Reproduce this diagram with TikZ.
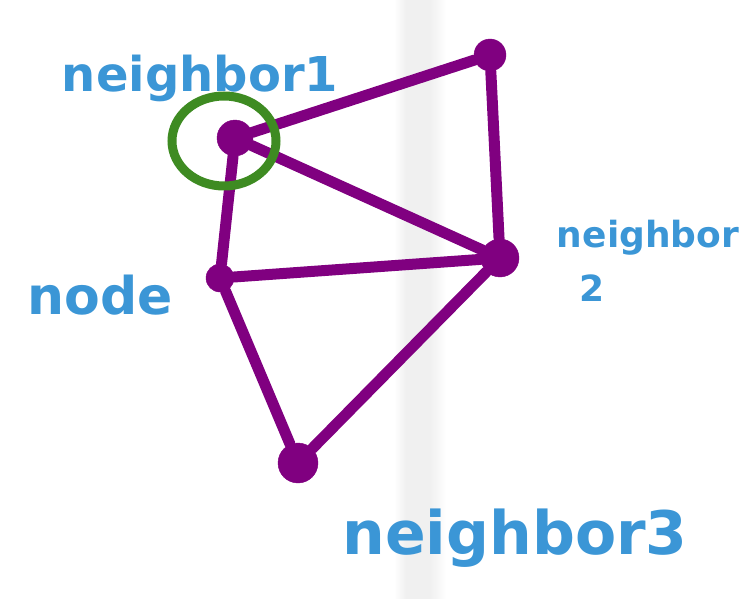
\documentclass[tikz,border=0pt]{standalone}
\usepackage{fontspec}
\setmainfont{DejaVu Sans}
\usetikzlibrary{shapes}
\begin{document}
\begin{tikzpicture}[x=1pt,y=-1pt,
    dot/.style={circle,fill=graphpurple,draw=graphpurple,inner sep=0pt,minimum size=#1},
    edge/.style={draw=graphpurple,line width=11pt,line cap=round},
    tag/.style={text=tagblue,font=\bfseries\fontsize{#1}{#1}\selectfont,inner sep=0pt}]
    \definecolor{graphpurple}{HTML}{800080}
    \definecolor{tagblue}{HTML}{3B96D6}
    \definecolor{ringgreen}{HTML}{3E8B22}
    \useasboundingbox (0,0) rectangle (749,599);
    % Page fold
    \shade[left color=white,right color=black!6] (394,0) rectangle (406,599);
    \fill[black!6] (406,0) rectangle (430,599);
    \shade[left color=black!6,right color=white] (430,0) rectangle (446,599);
    % Graph nodes
    \node[dot=36pt] (N1) at (235,138) {};
    \node[dot=32pt] (T) at (490,55) {};
    \node[dot=38pt] (N2) at (500,258) {};
    \node[dot=28pt] (N0) at (220,278) {};
    \node[dot=40pt] (N3) at (298,463) {};
    % Edges
    \foreach \a/\b in {N1/T,T/N2,N1/N2,N1/N0,N0/N2,N0/N3,N3/N2} {\draw[edge] (\a) -- (\b);}
    % Selected neighbour
    \node[draw=ringgreen,line width=9pt,ellipse,minimum width=104pt,minimum height=90pt] (R) at (224,141) {};
    % Labels
    \node[tag=48] (L1) at (200,78) {neighbor1};
    \node[tag=52] (L0) at (100,295) {node};
    \node[tag=36] (L2) at (648,238) {neighbor};
    \node[tag=36] (L2b) at (592,288) {2};
    \node[tag=60] (L3) at (515,538) {neighbor3};
\end{tikzpicture}
\end{document}
